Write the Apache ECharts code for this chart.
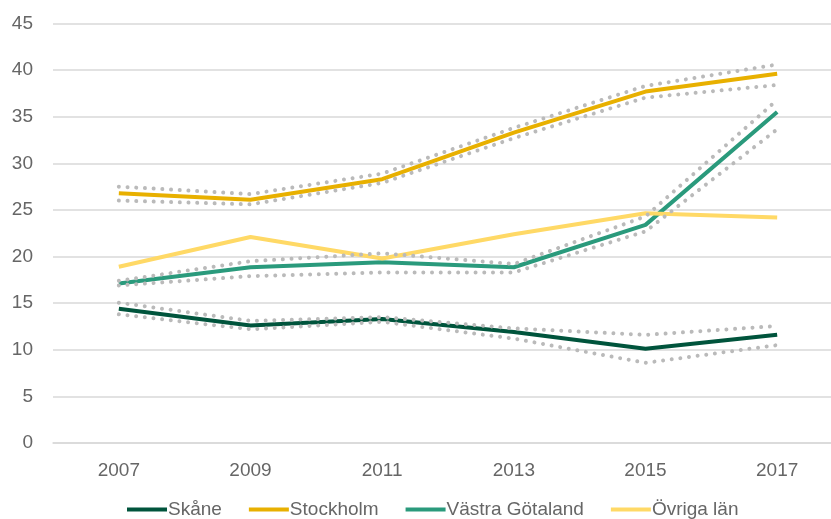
<!DOCTYPE html>
<html>
<head>
<meta charset="utf-8">
<script src="https://cdn.jsdelivr.net/npm/echarts@6/dist/echarts.min.js"></script>
<style>
  html, body { margin: 0; padding: 0; background: #fff; }
  #chart { width: 831px; height: 519px; }
</style>
</head>
<body>
<div id="chart"></div>
<script>
const years = ['2007', '2009', '2011', '2013', '2015', '2017']

const skane = [14.4, 12.6, 13.3, 11.9, 10.1, 11.6]
const skaneHi = [15.05, 13.1, 13.5, 12.3, 11.6, 12.55]
const skaneLo = [13.8, 12.2, 13.0, 11.2, 8.6, 10.5]

const sthlm = [26.8, 26.1, 28.3, 33.3, 37.7, 39.6]
const sthlmHi = [27.5, 26.7, 28.9, 33.8, 38.3, 40.6]
const sthlmLo = [26.0, 25.6, 27.9, 32.7, 37.05, 38.4]

const vg = [17.1, 18.85, 19.4, 18.85, 23.4, 35.5]
const vgHi = [17.4, 19.5, 20.35, 19.2, 24.3, 36.8]
const vgLo = [16.9, 17.9, 18.3, 18.3, 22.7, 33.65]

const ovriga = [18.9, 22.1, 19.8, 22.4, 24.65, 24.2]

const textColor = '#666666'
const font = 'Liberation Sans'

// huvudlinjer
function mainLine(name, data, color) {
  return {
    name: name,
    type: 'line',
    data: data,
    symbol: 'none',
    lineStyle: { color: color, width: 4 },
    itemStyle: { color: color },
  }
}

// konfidensintervall, grå prickar
function ciLine(data) {
  return {
    type: 'line',
    data: data,
    symbol: 'none',
    silent: true,
    lineStyle: { color: '#bababa', width: 4, type: [0.01, 8.7], cap: 'round' },
  }
}

const option = {
  animation: false,
  grid: { left: 53, top: 23.5, width: 790, bottom: 76, outerBoundsMode: 'none' },
  legend: {
    data: ['Skåne', 'Stockholm', 'Västra Götaland', 'Övriga län'],
    left: 122,
    top: 495,
    itemWidth: 40,
    itemHeight: 4,
    itemGap: 27,
    icon: 'rect',
    textStyle: { color: textColor, fontSize: 19, fontFamily: font, padding: [0, 0, 0, -4] },
  },
  xAxis: {
    type: 'category',
    data: years,
    axisLine: { lineStyle: { color: '#d9d9d9', width: 1.5 } },
    axisTick: { show: false },
    axisLabel: { color: textColor, fontSize: 19, fontFamily: font, margin: 18 },
  },
  yAxis: {
    type: 'value',
    min: 0,
    max: 45,
    interval: 5,
    axisLine: { show: false },
    axisTick: { show: false },
    splitLine: { lineStyle: { color: '#d9d9d9', width: 1.5 } },
    axisLabel: { color: textColor, fontSize: 19, fontFamily: font, margin: 20 },
  },
  series: [
    mainLine('Skåne', skane, '#00543c'),
    mainLine('Stockholm', sthlm, '#e8b000'),
    mainLine('Västra Götaland', vg, '#2a9a7c'),
    mainLine('Övriga län', ovriga, '#ffd966'),
    ciLine(skaneHi), ciLine(skaneLo),
    ciLine(sthlmHi), ciLine(sthlmLo),
    ciLine(vgHi), ciLine(vgLo),
  ],
}

const myChart = echarts.init(document.getElementById('chart'))
myChart.setOption(option)
</script>
</body>
</html>
